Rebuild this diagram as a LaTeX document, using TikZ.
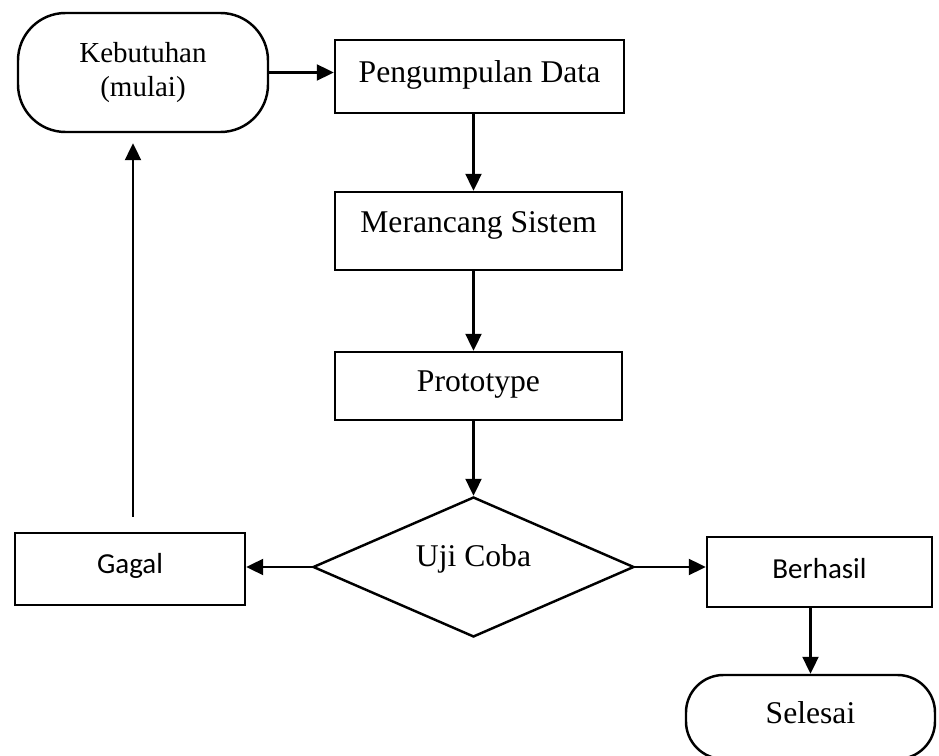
\documentclass[tikz,border=0pt]{standalone}
\usepackage{fontspec}
\setmainfont{Liberation Serif}
\newfontfamily\calibri{Carlito}
\usetikzlibrary{shapes.geometric,arrows.meta}
\tikzset{
  proses/.style={draw, line width=1.4pt, rectangle, inner sep=0pt, text height=0.42cm, font=\fontsize{18}{21}\selectfont},
  terminal/.style={draw, line width=1.4pt, rectangle, rounded corners=0.95cm, inner sep=0pt, align=center},
  keputusan/.style={draw, line width=1.4pt, diamond, aspect=2.3, inner sep=0pt, text height=0.42cm, font=\fontsize{18}{21}\selectfont},
  hasil/.style={draw, line width=1.4pt, rectangle, inner sep=0pt, text height=0.375cm, font=\calibri\fontsize{16.5}{20}\selectfont},
  panah/.style={line width=1.3pt, -{Triangle[length=0.34cm,width=0.32cm]}}
}
\begin{document}
\begin{tikzpicture}
  \useasboundingbox (0,0) rectangle (18.78,15.12);

  \node[terminal, minimum width=5cm, minimum height=2.38cm, font=\fontsize{16.5}{19}\selectfont] (keb) at (2.86,13.67) {Kebutuhan\\(mulai)};
  \node[proses, minimum width=5.78cm, minimum height=1.46cm, text depth=0.18cm] (pd) at (9.59,13.59) {Pengumpulan Data};
  \node[proses, minimum width=5.74cm, minimum height=1.56cm, text depth=0.36cm] (ms) at (9.57,10.5) {Merancang Sistem};
  \node[proses, minimum width=5.74cm, minimum height=1.36cm, text depth=0.2cm] (pt) at (9.57,7.4) {Prototype};
  \node[keputusan, minimum width=6.42cm, minimum height=2.8cm, text depth=0.44cm] (uji) at (9.47,3.78) {Uji Coba};
  \node[hasil, minimum width=4.6cm, minimum height=1.44cm, text depth=0.18cm] (gagal) at (2.6,3.74) {Gagal};
  \node[hasil, minimum width=4.5cm, minimum height=1.4cm, text depth=0.1cm] (berhasil) at (16.39,3.68) {Berhasil};
  \node[terminal, rounded corners=0.75cm, minimum width=4.98cm, minimum height=1.68cm, text height=0.42cm, text depth=0.16cm, font=\fontsize{18}{21}\selectfont] (selesai) at (16.21,0.78) {Selesai};

  \draw[panah] (keb.east) -- (keb.east -| pd.west);
  \draw[panah] (pd.south -| uji.north) -- (ms.north -| uji.north);
  \draw[panah] (ms.south -| uji.north) -- (pt.north -| uji.north);
  \draw[panah] (pt.south -| uji.north) -- (uji.north);
  \draw[panah] (uji.west) -- (uji.west -| gagal.east);
  \draw[panah] (uji.east) -- (uji.east -| berhasil.west);
  \draw[panah] (berhasil.south -| selesai.north) -- (selesai.north);
  \draw[panah, shorten <=0.3cm, shorten >=0.2cm] ([xshift=0.06cm]gagal.north) -- ([xshift=0.06cm]gagal.north |- keb.south);
\end{tikzpicture}
\end{document}
